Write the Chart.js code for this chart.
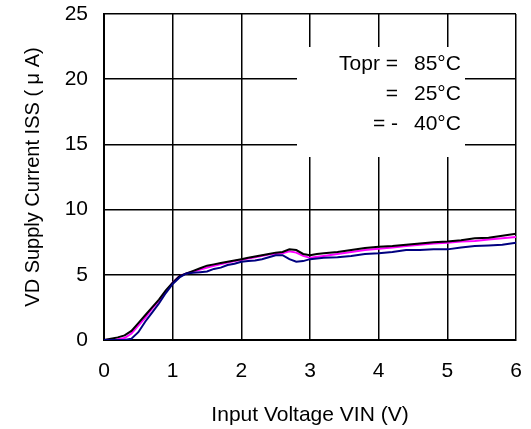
<!DOCTYPE html>
<html>
<head>
<meta charset="utf-8">
<script src="https://cdn.jsdelivr.net/npm/chart.js@4"></script>
<style>
  html, body { margin: 0; padding: 0; background: #fff; }
  #wrap { width: 531px; height: 429px; }
</style>
</head>
<body>
<div id="wrap"><canvas id="chart" width="531" height="429"></canvas></div>
<script>
// Supply current vs input voltage, three temperatures
const xTicks = [0, 1, 2, 3, 4, 5, 6];
const yTicks = [0, 5, 10, 15, 20, 25];

const vin85 = [0, 0.1, 0.2, 0.3, 0.4, 0.5, 0.6, 0.7, 0.8, 0.9, 1.0, 1.1, 1.2, 1.3, 1.4, 1.5, 1.6, 1.7, 1.8, 1.9, 2.0, 2.1, 2.2, 2.3, 2.4, 2.5, 2.6, 2.7, 2.8, 2.9, 3.0, 3.1, 3.2, 3.4, 3.6, 3.8, 4.0, 4.2, 4.4, 4.6, 4.8, 5.0, 5.2, 5.4, 5.6, 5.8, 6.0];
const iss85 = [0, 0.1, 0.2, 0.35, 0.7, 1.3, 1.9, 2.5, 3.1, 3.8, 4.4, 4.9, 5.1, 5.3, 5.5, 5.7, 5.8, 5.9, 6.0, 6.1, 6.2, 6.3, 6.4, 6.5, 6.6, 6.7, 6.75, 6.95, 6.9, 6.6, 6.5, 6.6, 6.65, 6.75, 6.9, 7.05, 7.15, 7.2, 7.3, 7.4, 7.5, 7.55, 7.65, 7.8, 7.85, 8.0, 8.15];

const vin25 = [0, 0.2, 0.3, 0.4, 0.5, 0.6, 0.7, 0.8, 0.9, 1.0, 1.1, 1.2, 1.4, 1.6, 1.8, 2.0, 2.2, 2.4, 2.6, 2.7, 2.8, 2.9, 3.0, 3.2, 3.4, 3.6, 3.8, 4.0, 4.2, 4.4, 4.6, 4.8, 5.0, 5.2, 5.4, 5.6, 5.8, 6.0];
const iss25 = [0, 0.05, 0.15, 0.5, 1.1, 1.7, 2.4, 3.0, 3.7, 4.4, 4.9, 5.1, 5.4, 5.7, 5.95, 6.15, 6.35, 6.55, 6.65, 6.8, 6.7, 6.45, 6.3, 6.45, 6.6, 6.75, 6.9, 7.0, 7.1, 7.2, 7.3, 7.4, 7.45, 7.55, 7.6, 7.7, 7.8, 7.9];

const vinM40 = [0, 0.3, 0.4, 0.5, 0.6, 0.7, 0.8, 0.9, 1.0, 1.1, 1.2, 1.3, 1.4, 1.5, 1.6, 1.7, 1.8, 1.9, 2.0, 2.1, 2.2, 2.3, 2.4, 2.5, 2.6, 2.7, 2.8, 2.9, 3.0, 3.2, 3.4, 3.6, 3.8, 4.0, 4.2, 4.4, 4.6, 4.8, 5.0, 5.2, 5.4, 5.6, 5.8, 6.0];
const issM40 = [0, 0.0, 0.1, 0.6, 1.4, 2.1, 2.8, 3.6, 4.3, 4.8, 5.1, 5.15, 5.2, 5.25, 5.45, 5.55, 5.75, 5.85, 6.0, 6.05, 6.1, 6.2, 6.35, 6.5, 6.5, 6.2, 6.0, 6.05, 6.2, 6.3, 6.35, 6.45, 6.6, 6.65, 6.75, 6.9, 6.9, 6.95, 6.95, 7.1, 7.2, 7.25, 7.3, 7.45];

const legendLabels = ['Topr =', '=', '= -'];
const legendTemps = ['85°C', '25°C', '40°C'];

const FONT = 'Arial, "Liberation Sans", sans-serif';

function toPoints(xs, ys) {
    return xs.map((x, i) => ({ x: x, y: ys[i] }));
}

function lineSet(label, xs, ys, color) {
    return {
        label: label,
        data: toPoints(xs, ys),
        borderColor: color,
        backgroundColor: color,
        borderWidth: 2,
        pointRadius: 0,
        showLine: true,
        tension: 0
    };
}

// white box with the temperature labels, drawn over the grid
const tempLegend = {
    id: 'tempLegend',
    afterDraw(chart) {
        const ctx = chart.ctx;
        ctx.save();
        ctx.fillStyle = '#fff';
        ctx.fillRect(297, 47, 168, 110);
        ctx.fillStyle = '#000';
        ctx.font = '21px ' + FONT;
        ctx.textBaseline = 'middle';
        for (let i = 0; i < legendLabels.length; i++) {
            const y = 64 + i * 30;
            ctx.textAlign = 'right';
            ctx.fillText(legendLabels[i], 398, y);
            ctx.textAlign = 'left';
            ctx.fillText(legendTemps[i], 414, y);
        }
        ctx.restore();
    }
};

const ctx = document.getElementById('chart').getContext('2d');
const chart = new Chart(ctx, {
    type: 'scatter',
    data: {
        datasets: [
            lineSet('-40°C', vinM40, issM40, '#000080'),
            lineSet('85°C', vin85, iss85, '#000000'),
            lineSet('25°C', vin25, iss25, '#ff00ff')
        ]
    },
    options: {
        responsive: false,
        animation: false,
        layout: { padding: { top: 14, right: 15, bottom: 0, left: 0 } },
        plugins: {
            legend: { display: false },
            tooltip: { enabled: false }
        },
        scales: {
            x: {
                type: 'linear',
                min: 0,
                max: 6,
                afterBuildTicks(scale) {
                    scale.ticks = xTicks.map(v => ({ value: v }));
                },
                afterFit(scale) {
                    scale.height = 89;
                    scale.paddingLeft = 0;
                    scale.paddingRight = 0;
                },
                grid: { color: '#000', lineWidth: 1.5, drawTicks: false },
                border: { color: '#000', width: 2 },
                ticks: {
                    color: '#000',
                    padding: 19,
                    maxRotation: 0,
                    font: { family: FONT, size: 21 }
                },
                title: {
                    display: true,
                    text: 'Input Voltage VIN (V)',
                    color: '#000',
                    font: { family: FONT, size: 21 },
                    padding: { top: 0, bottom: 1 }
                }
            },
            y: {
                type: 'linear',
                min: 0,
                max: 25,
                afterBuildTicks(scale) {
                    scale.ticks = yTicks.map(v => ({ value: v }));
                },
                afterFit(scale) {
                    scale.width = 104;
                    scale.paddingTop = 0;
                    scale.paddingBottom = 0;
                },
                grid: { color: '#000', lineWidth: 1.5, drawTicks: false },
                border: { color: '#000', width: 2 },
                ticks: {
                    color: '#000',
                    padding: 16,
                    font: { family: FONT, size: 21 }
                },
                title: {
                    display: true,
                    text: 'VD Supply Current ISS ( μ A)',
                    color: '#000',
                    font: { family: FONT, size: 20 },
                    padding: { top: 21, bottom: 0 }
                }
            }
        }
    },
    plugins: [tempLegend]
});
</script>
</body>
</html>
